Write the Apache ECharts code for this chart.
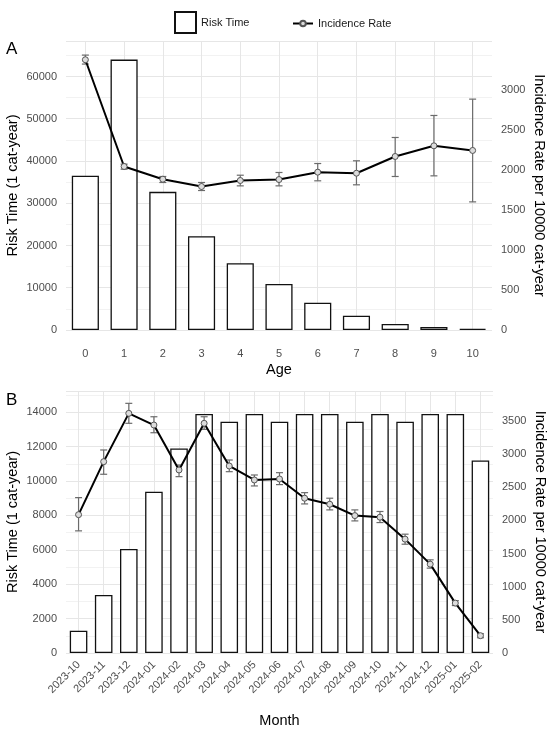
<!DOCTYPE html>
<html>
<head>
<meta charset="utf-8">
<script src="https://cdn.jsdelivr.net/npm/echarts@6/dist/echarts.min.js"></script>
<style>
  html, body { margin: 0; padding: 0; background: #fff; }
  #chart { width: 550px; height: 731px; }
</style>
</head>
<body>
<div id="chart"></div>
<script>
// panel A: by age
var ageCats = ['0', '1', '2', '3', '4', '5', '6', '7', '8', '9', '10'];
var ageRisk = [36500, 64000, 32700, 22200, 15800, 10900, 6470, 3390, 1420, 710, 300];
var ageRate = [3375, 2042, 1883, 1792, 1867, 1879, 1971, 1958, 2167, 2300, 2242];
var ageLow = [3321, 2008, 1842, 1742, 1800, 1800, 1863, 1813, 1917, 1925, 1600];
var ageHigh = [3433, 2071, 1917, 1842, 1933, 1967, 2079, 2113, 2404, 2679, 2883];

// panel B: by month
var monthCats = ['2023-10', '2023-11', '2023-12', '2024-01', '2024-02', '2024-03', '2024-04', '2024-05',
  '2024-06', '2024-07', '2024-08', '2024-09', '2024-10', '2024-11', '2024-12', '2025-01', '2025-02'];
var monthRisk = [1300, 3380, 6050, 9380, 11900, 13900, 13450, 13900, 13450, 13900, 13900, 13450, 13900,
  13450, 13900, 13900, 11200];
var monthRate = [2085, 2884, 3612, 3436, 2759, 3462, 2819, 2608, 2623, 2333, 2242, 2071, 2047, 1716, 1339, 752, 261];
var monthLow = [1841, 2694, 3462, 3320, 2658, 3371, 2733, 2518, 2538, 2247, 2157, 1991, 1966, 1640, 1279, 715, 230];
var monthHigh = [2342, 3060, 3763, 3561, 2834, 3561, 2909, 2683, 2718, 2417, 2333, 2157, 2133, 1791, 1404, 790, 290];

var FONT = "'Liberation Sans', Arial, sans-serif";
var TICK = '#4d4d4d';

function errData(low, high) {
  var out = [];
  for (var i = 0; i < low.length; i++) out.push([i, low[i], high[i]]);
  return out;
}

// error bars with little caps
function renderErr(params, api) {
  var x = api.value(0);
  var top = api.coord([x, api.value(2)]);
  var bot = api.coord([x, api.value(1)]);
  var w = 3.5;
  var st = { stroke: '#6b6b6b', lineWidth: 1.2 };
  return {
    type: 'group',
    children: [
      { type: 'line', shape: { x1: top[0], y1: top[1], x2: bot[0], y2: bot[1] }, style: st },
      { type: 'line', shape: { x1: top[0] - w, y1: top[1], x2: top[0] + w, y2: top[1] }, style: st },
      { type: 'line', shape: { x1: bot[0] - w, y1: bot[1], x2: bot[0] + w, y2: bot[1] }, style: st }
    ]
  };
}

function xAxisOf(grid, cats, name, gap, rotate, margin) {
  return {
    type: 'category',
    gridIndex: grid,
    data: cats,
    name: name,
    nameLocation: 'middle',
    nameGap: gap,
    nameMoveOverlap: false,
    nameTextStyle: { fontFamily: FONT, fontSize: 14.5, color: '#000' },
    axisLine: { show: false },
    axisTick: { show: false },
    axisLabel: { fontFamily: FONT, fontSize: 11, color: TICK, rotate: rotate, margin: margin, interval: 0 },
    splitLine: { show: true, alignWithLabel: true, lineStyle: { color: '#e6e6e6', width: 1 } }
  };
}

function leftAxis(grid, max, step) {
  return {
    type: 'value',
    gridIndex: grid,
    min: 0,
    max: max,
    interval: step / 2,
    name: 'Risk Time (1 cat-year)',
    nameLocation: 'middle',
    nameGap: 46,
    nameMoveOverlap: false,
    nameTextStyle: { fontFamily: FONT, fontSize: 14.5, color: '#000' },
    axisLine: { show: false },
    axisTick: { show: false },
    axisLabel: {
      fontFamily: FONT, fontSize: 11, color: TICK, margin: 9,
      formatter: function (v) { return v % step === 0 ? String(v) : ''; }
    },
    splitLine: { show: true, lineStyle: { color: ['#e6e6e6', '#f2f2f2'], width: 1 } }
  };
}

function rightAxis(grid, max, lastLabel) {
  return {
    type: 'value',
    gridIndex: grid,
    position: 'right',
    min: 0,
    max: max,
    interval: 500,
    name: 'Incidence Rate per 10000 cat-year',
    nameLocation: 'middle',
    nameRotate: -90,
    nameGap: 39,
    nameMoveOverlap: false,
    nameTextStyle: { fontFamily: FONT, fontSize: 14.5, color: '#000' },
    axisLine: { show: false },
    axisTick: { show: false },
    axisLabel: {
      fontFamily: FONT, fontSize: 11, color: TICK, margin: 9,
      formatter: function (v) { return (v % 500 === 0 && v <= lastLabel) ? String(v) : ''; }
    },
    splitLine: { show: false }
  };
}

function panelSeries(xi, yl, yr, risk, rate, low, high) {
  return [
    {
      name: 'Risk Time',
      type: 'bar',
      xAxisIndex: xi,
      yAxisIndex: yl,
      barWidth: '70%',
      data: risk,
      itemStyle: { color: '#fff', borderColor: '#111', borderWidth: 1.3 },
      z: 2
    },
    {
      name: 'err' + xi,
      type: 'custom',
      xAxisIndex: xi,
      yAxisIndex: yr,
      renderItem: renderErr,
      encode: { x: 0, y: [1, 2] },
      data: errData(low, high),
      z: 3
    },
    {
      name: 'Incidence Rate',
      type: 'line',
      xAxisIndex: xi,
      yAxisIndex: yr,
      data: rate,
      symbol: 'circle',
      symbolSize: 6,
      lineStyle: { color: '#000', width: 2 },
      itemStyle: { color: '#dcdcdc', borderColor: '#555', borderWidth: 1 },
      z: 4
    }
  ];
}

var myChart = echarts.init(document.getElementById('chart'));

var option = {
  animation: false,
  backgroundColor: '#fff',
  textStyle: { fontFamily: FONT },
  legend: [
    {
      data: ['Risk Time'],
      left: 169,
      top: 6,
      itemWidth: 21,
      itemHeight: 21,
      icon: 'rect',
      textStyle: { fontFamily: FONT, fontSize: 11, color: '#1a1a1a' }
    },
    {
      data: ['Incidence Rate'],
      left: 287,
      top: 13,
      itemWidth: 20,
      itemHeight: 7,
      textStyle: { fontFamily: FONT, fontSize: 11, color: '#1a1a1a' }
    }
  ],
  graphic: [
    { type: 'text', left: 6, top: 41, style: { text: 'A', font: '17px ' + FONT, fill: '#000' } },
    { type: 'text', left: 6, top: 392, style: { text: 'B', font: '17px ' + FONT, fill: '#000' } }
  ],
  grid: [
    { left: 66, right: 58, top: 41, height: 289, outerBoundsMode: 'none', containLabel: false },
    { left: 66, right: 57, top: 391, height: 262, outerBoundsMode: 'none', containLabel: false }
  ],
  xAxis: [
    xAxisOf(0, ageCats, 'Age', 32, 0, 18),
    xAxisOf(1, monthCats, 'Month', 60, 45, 10)
  ],
  yAxis: [
    leftAxis(0, 68400, 10000),
    rightAxis(0, 3609, 3000),
    leftAxis(1, 15240, 2000),
    rightAxis(1, 3949, 3500)
  ],
  series: panelSeries(0, 0, 1, ageRisk, ageRate, ageLow, ageHigh)
    .concat(panelSeries(1, 2, 3, monthRisk, monthRate, monthLow, monthHigh))
};

option && myChart.setOption(option);
</script>
</body>
</html>
